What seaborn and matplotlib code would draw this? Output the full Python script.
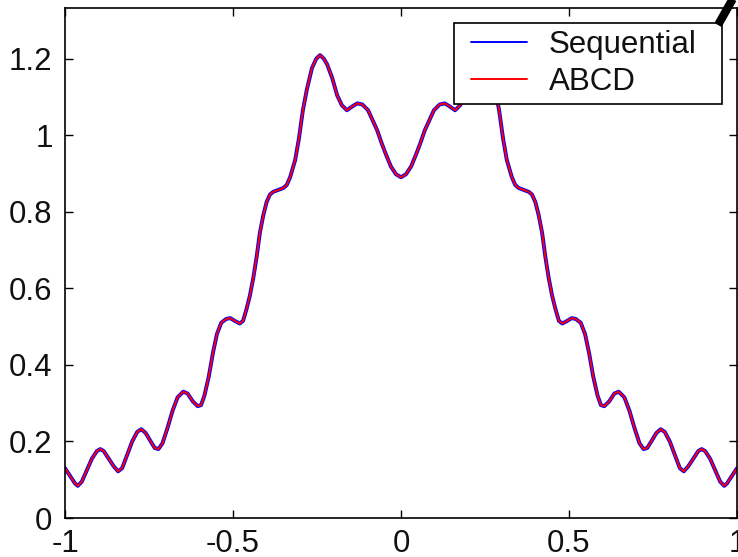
import matplotlib
matplotlib.use("Agg")
import matplotlib.pyplot as plt
from matplotlib.lines import Line2D
from matplotlib.legend_handler import HandlerLine2D
import pandas as pd
import seaborn as sns

# Profile samples (left half, x from -1 to 0)
x_left = [-1.0, -0.985, -0.97, -0.962, -0.95, -0.935, -0.92, -0.905, -0.895, -0.885,
          -0.87, -0.855, -0.842, -0.83, -0.815, -0.80, -0.785, -0.773, -0.76, -0.745,
          -0.733, -0.722, -0.71, -0.695, -0.68, -0.665, -0.648, -0.635, -0.62, -0.605,
          -0.595, -0.585, -0.572, -0.56, -0.548, -0.535, -0.52, -0.508, -0.495, -0.48,
          -0.47, -0.46, -0.45, -0.44, -0.43, -0.42, -0.41, -0.40, -0.39, -0.38,
          -0.365, -0.35, -0.34, -0.33, -0.315, -0.304, -0.292, -0.28, -0.265, -0.252,
          -0.241, -0.23, -0.22, -0.205, -0.19, -0.176, -0.161, -0.145, -0.13, -0.115,
          -0.098, -0.085, -0.071, -0.058, -0.045, -0.03, -0.015]
y_left = [0.13, 0.11, 0.09, 0.084, 0.095, 0.125, 0.155, 0.175, 0.18, 0.175,
          0.155, 0.135, 0.122, 0.13, 0.165, 0.20, 0.225, 0.232, 0.222, 0.20,
          0.183, 0.18, 0.195, 0.235, 0.28, 0.315, 0.33, 0.325, 0.305, 0.292,
          0.295, 0.32, 0.37, 0.43, 0.48, 0.51, 0.52, 0.522, 0.515, 0.508,
          0.515, 0.545, 0.58, 0.625, 0.68, 0.745, 0.79, 0.825, 0.845, 0.852,
          0.857, 0.862, 0.87, 0.89, 0.935, 0.99, 1.065, 1.12, 1.175, 1.20,
          1.209, 1.20, 1.185, 1.15, 1.104, 1.078, 1.065, 1.075, 1.083, 1.08,
          1.065, 1.04, 1.013, 0.98, 0.95, 0.918, 0.898]
x_center = [0.0]
y_center = [0.89]
# Right half (x from 0 to 1)
x_right = [0.015, 0.03, 0.045, 0.058, 0.071, 0.085, 0.098, 0.115, 0.13, 0.145,
           0.161, 0.176, 0.19, 0.205, 0.22, 0.23, 0.241, 0.252, 0.265, 0.28,
           0.292, 0.304, 0.315, 0.33, 0.34, 0.35, 0.365, 0.38, 0.39, 0.40,
           0.41, 0.42, 0.43, 0.44, 0.45, 0.46, 0.47, 0.48, 0.495, 0.508,
           0.52, 0.535, 0.548, 0.56, 0.572, 0.585, 0.595, 0.605, 0.62, 0.635,
           0.648, 0.665, 0.68, 0.695, 0.71, 0.722, 0.733, 0.745, 0.76, 0.773,
           0.785, 0.80, 0.815, 0.83, 0.842, 0.855, 0.87, 0.885, 0.895, 0.905,
           0.92, 0.935, 0.95, 0.962, 0.97, 0.985, 1.0]
y_right = [0.898, 0.918, 0.95, 0.98, 1.013, 1.04, 1.065, 1.08, 1.083, 1.075,
           1.065, 1.078, 1.104, 1.15, 1.185, 1.20, 1.209, 1.20, 1.175, 1.12,
           1.065, 0.99, 0.935, 0.89, 0.87, 0.862, 0.857, 0.852, 0.845, 0.825,
           0.79, 0.745, 0.68, 0.625, 0.58, 0.545, 0.515, 0.508, 0.515, 0.522,
           0.52, 0.51, 0.48, 0.43, 0.37, 0.32, 0.295, 0.292, 0.305, 0.325,
           0.33, 0.315, 0.28, 0.235, 0.195, 0.18, 0.183, 0.20, 0.222, 0.232,
           0.225, 0.20, 0.165, 0.13, 0.122, 0.135, 0.155, 0.175, 0.18, 0.175,
           0.155, 0.125, 0.095, 0.084, 0.09, 0.11, 0.13]

x_vals = x_left + x_center + x_right
y_vals = y_left + y_center + y_right

series_names = ["Sequential", "ABCD"]
series_colors = ["#0000ff", "#ff0000"]
x_ticks = [-1, -0.5, 0, 0.5, 1]
x_tick_labels = ["-1", "-0.5", "0", "0.5", "1"]
y_ticks = [0, 0.2, 0.4, 0.6, 0.8, 1.0, 1.2]
y_tick_labels = ["0", "0.2", "0.4", "0.6", "0.8", "1", "1.2"]

df = pd.DataFrame({"x": x_vals, "y": y_vals})

sns.set_style("white")
plt.rcParams["font.family"] = ["Liberation Sans", "DejaVu Sans"]

fig = plt.figure(figsize=(7.38, 5.57), dpi=100)
ax = fig.add_axes([0.0881, 0.070, 0.9105, 0.9156])

sns.lineplot(data=df, x="x", y="y", ax=ax, color=series_colors[0], lw=2.8,
             sort=False, estimator=None, label=series_names[0])
sns.lineplot(data=df, x="x", y="y", ax=ax, color=series_colors[1], lw=1.4,
             sort=False, estimator=None, label=series_names[1])

ax.set_xlim(-1, 1)
ax.set_ylim(0, 1.332)
ax.set_xticks(x_ticks)
ax.set_xticklabels(x_tick_labels)
ax.set_yticks(y_ticks)
ax.set_yticklabels(y_tick_labels)
ax.set_xlabel("")
ax.set_ylabel("")

for side in ["left", "right", "top", "bottom"]:
    ax.spines[side].set_visible(True)
    ax.spines[side].set_color("black")
    ax.spines[side].set_linewidth(1.2)

ax.tick_params(axis="both", which="major", direction="in", length=6,
               width=1.0, color="black", labelsize=22.5, labelcolor="#111111",
               top=True, right=True, bottom=True, left=True)
ax.tick_params(axis="x", pad=8)
ax.tick_params(axis="y", pad=9)

# Legend with thin line keys, indented a little from the frame edge
handles = [Line2D([], [], color=series_colors[0], lw=1.4),
           Line2D([], [], color=series_colors[1], lw=1.4)]
leg = ax.legend(handles, series_names, loc="upper left",
                bbox_to_anchor=(0.579, 0.9706, 0.399, 0.0), mode="expand",
                fontsize=22.5, frameon=True, fancybox=False, shadow=False,
                handlelength=2.12, handletextpad=0.7, labelspacing=0.24,
                borderpad=0.22, borderaxespad=0.0,
                handler_map={Line2D: HandlerLine2D(xpad=0.32)})
leg.get_frame().set_edgecolor("black")
leg.get_frame().set_linewidth(1.2)
leg.get_frame().set_alpha(1.0)
for t in leg.get_texts():
    t.set_color("#111111")

# Thick black pointer stroke at the upper right corner
W, H = 738.0, 557.0
fig.add_artist(Line2D([718 / W, 735 / W], [1 - 25 / H, 1 + 5 / H],
                      transform=fig.transFigure, color="black", lw=6,
                      solid_capstyle="butt", zorder=10))

fig.savefig("out.png", dpi=100)
